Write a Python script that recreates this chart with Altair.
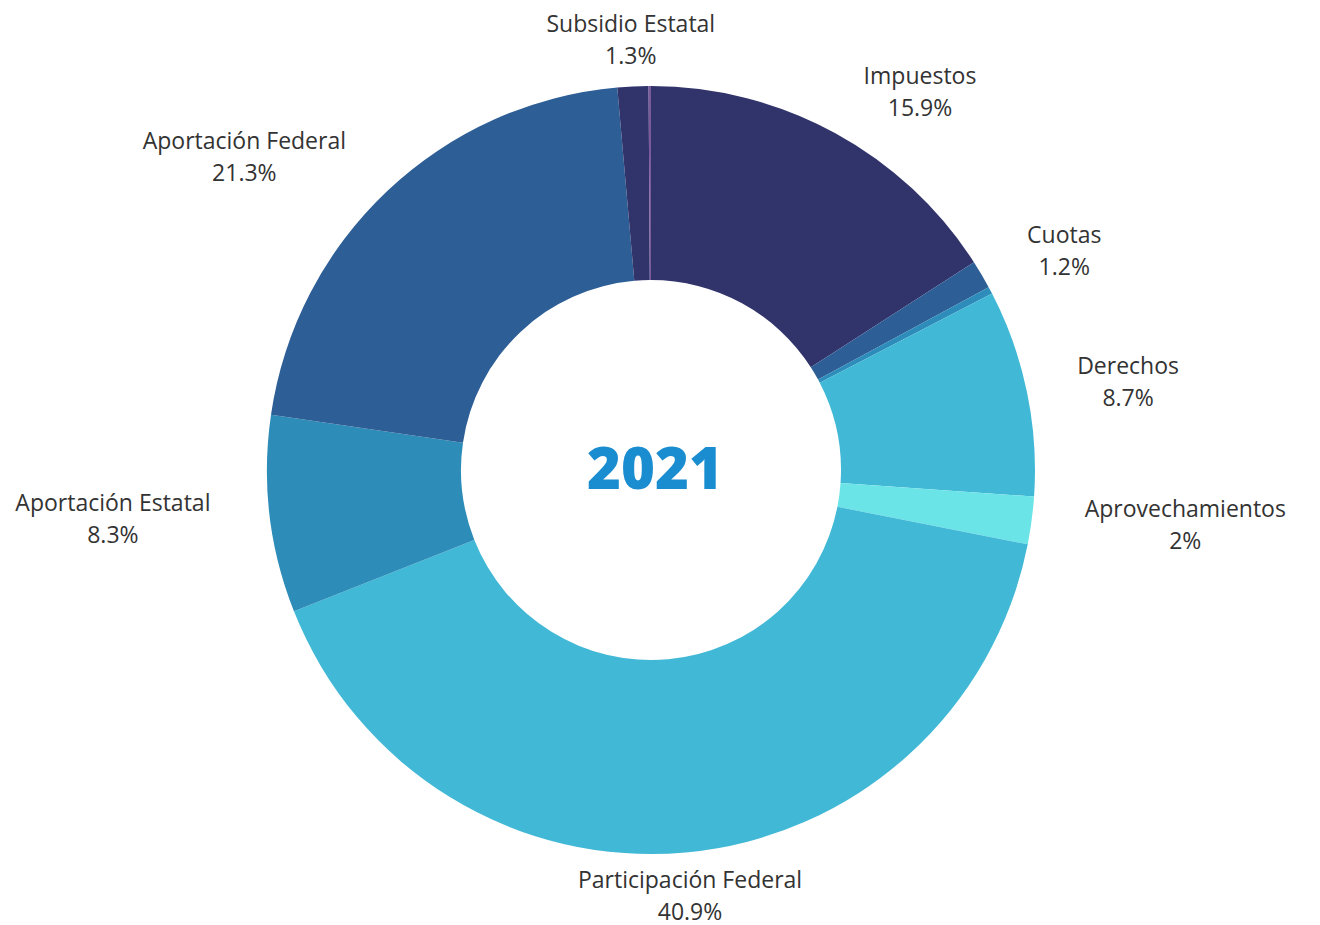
import altair as alt
import pandas as pd

categories = ["Impuestos", "Cuotas", "Contribuciones de Mejoras", "Derechos",
              "Aprovechamientos", "Participación Federal", "Aportación Estatal",
              "Aportación Federal", "Subsidio Estatal", "Otros"]
values = [15.9, 1.2, 0.3, 8.7, 2.0, 40.9, 8.3, 21.3, 1.3, 0.1]
show_label = [True, True, False, True, True, True, True, True, True, False]
colors = ["#31336b", "#2e5e96", "#2d8cba", "#41b8d6", "#6be4e8",
          "#41b8d6", "#2d8cb8", "#2e5e96", "#31336b", "#7b5a9c"]

labels = [f"{c}\n{v:g}%" if s else "" for c, v, s in zip(categories, values, show_label)]
df = pd.DataFrame({"idx": list(range(len(categories))), "cat": categories,
                   "value": values, "label": labels})

W, H = 1274, 900
CX, CY = W / 2, H / 2
R_LABEL = 429

color_scale = alt.Scale(domain=categories, range=colors)

arcs = alt.Chart(df).mark_arc(outerRadius=384, innerRadius=190, strokeWidth=0).encode(
    theta=alt.Theta("value:Q", stack=True),
    color=alt.Color("cat:N", scale=color_scale, legend=None),
    order=alt.Order("idx:Q"),
)

texts = alt.Chart(df).transform_window(
    cum="sum(value)", sort=[alt.SortField("idx")]
).transform_calculate(
    ang="(datum.cum - datum.value / 2) / 100 * 2 * PI",
).transform_calculate(
    s="sin(datum.ang)",
).transform_calculate(
    side="datum.s > 0.3 ? 1 : (datum.s < -0.3 ? -1 : 0)",
).transform_calculate(
    px=f"{CX} + {R_LABEL} * datum.s + datum.side * length(datum.cat) * 6.5 + 5 * abs(datum.side)",
    py=f"{CY} - {R_LABEL} * cos(datum.ang)",
).transform_filter("datum.label != ''").mark_text(
    align="center", baseline="middle", lineBreak="\n", dy=-16,
    font="Open Sans", fontSize=23, lineHeight=32, color="#333333"
).encode(
    x=alt.X("px:Q", scale=None, axis=None),
    y=alt.Y("py:Q", scale=None, axis=None),
    text="label:N",
)

year = alt.Chart(pd.DataFrame({"t": ["2021"]})).mark_text(
    font="Open Sans", fontSize=58, fontWeight=800, color="#1a8dd0",
    baseline="middle", align="center", dx=4, dy=2
).encode(x=alt.value(CX), y=alt.value(CY), text="t:N")

chart = alt.layer(arcs, texts, year).properties(
    width=W, height=H,
    padding={"left": 6, "top": 12, "right": 24, "bottom": 8},
    autosize=alt.AutoSizeParams(type="none"),
).configure_view(stroke=None)

chart.save("out.html", embed_options={"renderer": "svg", "actions": False})
